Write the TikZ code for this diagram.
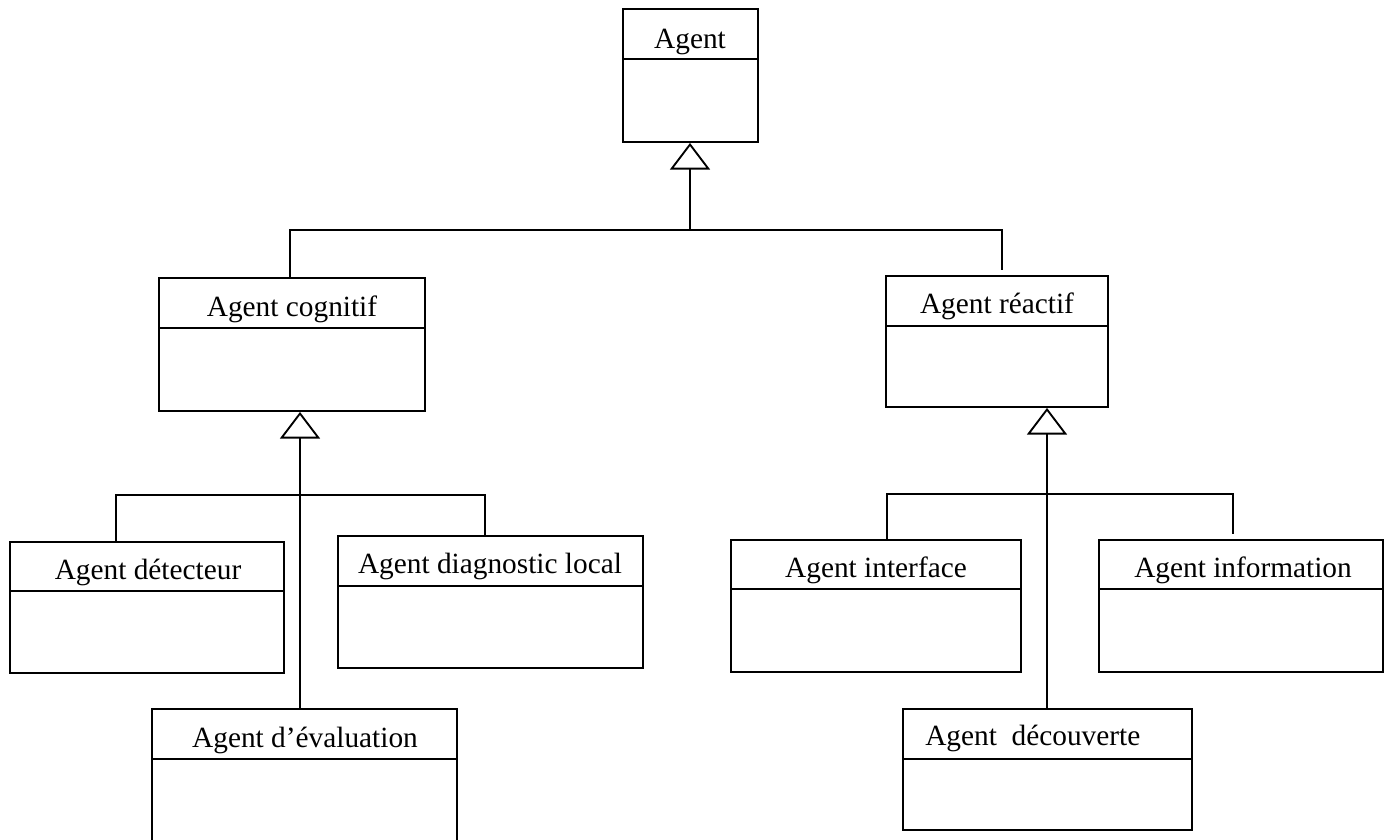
\documentclass[tikz,border=0pt]{standalone}
\usepackage{fontspec}
\setmainfont{Liberation Serif}
\usetikzlibrary{arrows.meta,fit}

\tikzset{
  classbox/.style={draw, line width=1.4pt, inner sep=0pt, fill=white},
  lbl/.style={font=\fontsize{22}{25}\selectfont, inner sep=0pt, anchor=base},
  link/.style={line width=1.4pt},
  gen/.style={link, -{Triangle[open, length=20pt, width=30pt]}},
}

% a UML class: name, corners, divider height
\newcommand{\umlclass}[6]{%
  \node[classbox, fit={(#2,#3) (#4,#6)}] (#1) {};
  \draw[line width=1.4pt] (#1.west |- 0,#5) -- (#1.east |- 0,#5);
}

\begin{document}
\begin{tikzpicture}[x=0.75pt, y=-0.75pt]
  \fill[white] (0,0) rectangle (1384,839);
  \useasboundingbox (0,0) rectangle (1384,839);
  \clip (0,0) rectangle (1384,839);

  % classes
  \umlclass{agent}{623}{9}{758}{59}{142}
  \umlclass{cog}{159}{278}{425}{328}{411}
  \umlclass{rea}{886}{276}{1108}{326}{407}
  \umlclass{det}{10}{542}{284}{591}{673}
  \umlclass{diag}{338}{536}{643}{586}{668}
  \umlclass{eval}{152}{709}{457}{759}{850}
  \umlclass{inter}{731}{540}{1021}{589}{672}
  \umlclass{info}{1099}{540}{1383}{589}{672}
  \umlclass{decouv}{903}{709}{1192}{759}{830}

  % class names
  \node[lbl] (agent-t)  at (690,48)  {Agent};
  \node[lbl] (cog-t)    at (292,316) {Agent cognitif};
  \node[lbl] (rea-t)    at (997,313) {Agent réactif};
  \node[lbl] (det-t)    at (148,579) {Agent détecteur};
  \node[lbl] (diag-t)   at (490,573) {Agent diagnostic local};
  \node[lbl] (eval-t)   at (305,747) {Agent d’évaluation};
  \node[lbl] (inter-t)  at (876,577) {Agent interface};
  \node[lbl] (info-t)   at (1243,577) {Agent information};
  \node[lbl, anchor=base west] (decouv-t) at (925,745) {Agent\ \ découverte};

  % junction points of the hierarchy
  \coordinate (h0) at (690,230);
  \coordinate (r0) at (1002,270);
  \coordinate (h1) at (300,495);
  \coordinate (h2) at (1047,494);
  \coordinate (i0) at (1233,534);

  % Agent <- cognitif / reactif
  \draw[gen] (h0) -- (agent.south -| h0);
  \draw[link] (cog.north -| 290,0) |- (h0) -| (r0);

  % Agent cognitif <- detecteur / diagnostic / evaluation
  \draw[gen] (eval.north -| h1) -- (cog.south -| h1);
  \draw[link] (det.north -| 116,0) |- (h1) -| (diag.north -| 485,0);

  % Agent reactif <- interface / information / decouverte
  \draw[gen] (decouv.north -| h2) -- (rea.south -| h2);
  \draw[link] (inter.north -| 887,0) |- (h2) -| (i0);
\end{tikzpicture}
\end{document}
